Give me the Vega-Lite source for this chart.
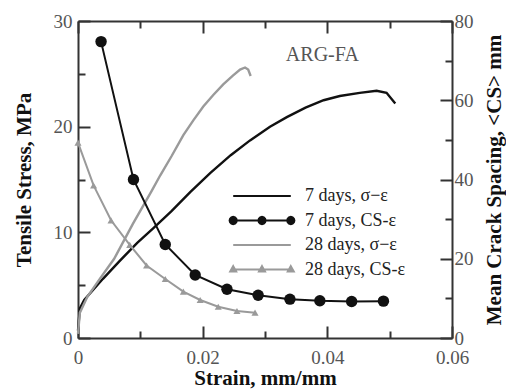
{
  "$schema": "https://vega.github.io/schema/vega-lite/v6.json",
  "width": 374,
  "height": 317,
  "autosize": {"type": "none"},
  "padding": {"left": 78, "top": 21, "right": 54, "bottom": 51},
  "background": "white",
  "config": {
    "view": {"stroke": null},
    "font": "Liberation Serif",
    "axis": {
      "labelFont": "Liberation Serif",
      "titleFont": "Liberation Serif",
      "grid": false,
      "domainColor": "#333333",
      "domainWidth": 2,
      "tickColor": "#333333",
      "tickWidth": 2,
      "labelColor": "#555555",
      "labelFontSize": 19,
      "titleFontSize": 21,
      "titleFontWeight": "bold",
      "titleColor": "#111111",
      "labelFlush": false,
      "labelOverlap": false,
      "labelBound": false
    }
  },
  "datasets": {
    "stress": [
      {"series": "7 days, σ−ε", "strain": 0, "stress": 0.7},
      {"series": "7 days, σ−ε", "strain": 0.0003, "stress": 2.8},
      {"series": "7 days, σ−ε", "strain": 0.001, "stress": 3.6},
      {"series": "7 days, σ−ε", "strain": 0.004, "stress": 5.6},
      {"series": "7 days, σ−ε", "strain": 0.0067, "stress": 7.3},
      {"series": "7 days, σ−ε", "strain": 0.0095, "stress": 9.0},
      {"series": "7 days, σ−ε", "strain": 0.0121, "stress": 10.4},
      {"series": "7 days, σ−ε", "strain": 0.015, "stress": 12.0},
      {"series": "7 days, σ−ε", "strain": 0.018, "stress": 13.8},
      {"series": "7 days, σ−ε", "strain": 0.0212, "stress": 15.6},
      {"series": "7 days, σ−ε", "strain": 0.0245, "stress": 17.3},
      {"series": "7 days, σ−ε", "strain": 0.0276, "stress": 18.7},
      {"series": "7 days, σ−ε", "strain": 0.0308, "stress": 20.0},
      {"series": "7 days, σ−ε", "strain": 0.0335, "stress": 20.9},
      {"series": "7 days, σ−ε", "strain": 0.0365, "stress": 21.8},
      {"series": "7 days, σ−ε", "strain": 0.0394, "stress": 22.5},
      {"series": "7 days, σ−ε", "strain": 0.042, "stress": 22.9},
      {"series": "7 days, σ−ε", "strain": 0.0452, "stress": 23.2},
      {"series": "7 days, σ−ε", "strain": 0.0479, "stress": 23.4},
      {"series": "7 days, σ−ε", "strain": 0.0495, "stress": 23.2},
      {"series": "7 days, σ−ε", "strain": 0.0509, "stress": 22.2},
      {"series": "28 days, σ−ε", "strain": 0, "stress": 0.4},
      {"series": "28 days, σ−ε", "strain": 0.0003, "stress": 2.4},
      {"series": "28 days, σ−ε", "strain": 0.0015, "stress": 3.9},
      {"series": "28 days, σ−ε", "strain": 0.0035, "stress": 5.6},
      {"series": "28 days, σ−ε", "strain": 0.0058, "stress": 7.5},
      {"series": "28 days, σ−ε", "strain": 0.0088, "stress": 10.8},
      {"series": "28 days, σ−ε", "strain": 0.0118, "stress": 13.9},
      {"series": "28 days, σ−ε", "strain": 0.0132, "stress": 15.4},
      {"series": "28 days, σ−ε", "strain": 0.015, "stress": 17.2},
      {"series": "28 days, σ−ε", "strain": 0.0169, "stress": 19.2},
      {"series": "28 days, σ−ε", "strain": 0.0185, "stress": 20.6},
      {"series": "28 days, σ−ε", "strain": 0.0201, "stress": 21.9},
      {"series": "28 days, σ−ε", "strain": 0.0217, "stress": 23.0},
      {"series": "28 days, σ−ε", "strain": 0.0233, "stress": 24.0},
      {"series": "28 days, σ−ε", "strain": 0.0248, "stress": 24.8},
      {"series": "28 days, σ−ε", "strain": 0.026, "stress": 25.4},
      {"series": "28 days, σ−ε", "strain": 0.0268, "stress": 25.6},
      {"series": "28 days, σ−ε", "strain": 0.0273, "stress": 25.4},
      {"series": "28 days, σ−ε", "strain": 0.0277, "stress": 24.8}
    ],
    "cs": [
      {"series": "7 days, CS-ε", "strain": 0.0037, "cs": 74.8},
      {"series": "7 days, CS-ε", "strain": 0.0089, "cs": 40.0},
      {"series": "7 days, CS-ε", "strain": 0.014, "cs": 23.6},
      {"series": "7 days, CS-ε", "strain": 0.0188, "cs": 15.9},
      {"series": "7 days, CS-ε", "strain": 0.0239, "cs": 12.3},
      {"series": "7 days, CS-ε", "strain": 0.0289, "cs": 10.8},
      {"series": "7 days, CS-ε", "strain": 0.034, "cs": 9.8},
      {"series": "7 days, CS-ε", "strain": 0.0388, "cs": 9.4},
      {"series": "7 days, CS-ε", "strain": 0.0439, "cs": 9.2},
      {"series": "7 days, CS-ε", "strain": 0.049, "cs": 9.3},
      {"series": "28 days, CS-ε", "strain": 0, "cs": 49.3},
      {"series": "28 days, CS-ε", "strain": 0.0025, "cs": 38.5},
      {"series": "28 days, CS-ε", "strain": 0.0053, "cs": 29.7},
      {"series": "28 days, CS-ε", "strain": 0.0083, "cs": 23.5},
      {"series": "28 days, CS-ε", "strain": 0.011, "cs": 18.3},
      {"series": "28 days, CS-ε", "strain": 0.014, "cs": 14.9},
      {"series": "28 days, CS-ε", "strain": 0.0169, "cs": 11.7},
      {"series": "28 days, CS-ε", "strain": 0.0196, "cs": 9.6},
      {"series": "28 days, CS-ε", "strain": 0.0225, "cs": 7.9},
      {"series": "28 days, CS-ε", "strain": 0.0255, "cs": 6.8},
      {"series": "28 days, CS-ε", "strain": 0.0284, "cs": 6.4}
    ]
  },
  "layer": [
    {
      "data": {"name": "stress"},
      "mark": {"type": "line", "strokeWidth": 2.4},
      "encoding": {
        "x": {
          "field": "strain", "type": "quantitative",
          "scale": {"domain": [0, 0.06], "nice": false, "zero": false},
          "axis": {
            "orient": "bottom",
            "values": [0, 0.01, 0.02, 0.03, 0.04, 0.05, 0.06],
            "labelExpr": "round(datum.value*100)%2==0 ? (datum.value==0 ? '0' : format(datum.value, '.2f')) : ''",
            "tickSize": {"condition": {"test": "round(datum.value*100)%2==0", "value": -12}, "value": -7},
            "labelPadding": 22,
            "title": "Strain, mm/mm",
            "titleFontSize": 21,
            "titleBaseline": "middle",
            "titleY": 40
          }
        },
        "y": {
          "field": "stress", "type": "quantitative",
          "scale": {"domain": [0, 30], "nice": false},
          "axis": {
            "orient": "left",
            "values": [0, 5, 10, 15, 20, 25, 30],
            "labelExpr": "datum.value%10==0 ? datum.label : ''",
            "tickSize": {"condition": {"test": "datum.value%10==0", "value": -12}, "value": -7},
            "labelPadding": 18,
            "title": "Tensile Stress, MPa",
            "titlePadding": 19
          }
        },
        "color": {
          "field": "series", "type": "nominal",
          "scale": {
            "domain": ["7 days, σ−ε", "7 days, CS-ε", "28 days, σ−ε", "28 days, CS-ε"],
            "range": ["#111111", "#111111", "#9a9a9a", "#9a9a9a"]
          },
          "legend": {
            "orient": "none",
            "legendX": 171,
            "legendY": 162,
            "title": null,
            "padding": 0,
            "symbolSize": 576,
            "rowPadding": 2.5,
            "labelOffset": 30,
            "labelFont": "Liberation Serif",
            "labelFontSize": 18,
            "labelColor": "#222222",
            "symbolStrokeWidth": 2,
            "encode": {
              "symbols": {
                "update": {
                  "shape": {"signal": "datum.value=='7 days, σ−ε' || datum.value=='28 days, σ−ε' ? 'M-2.4,0L2.4,0' : (datum.value=='28 days, CS-ε' ? 'M-2.4,0L2.4,0M-2.4,-0.28L-2.15,0.17L-2.65,0.17ZM0,-0.28L0.25,0.17L-0.25,0.17ZM2.4,-0.28L2.65,0.17L2.15,0.17Z' : 'M-2.4,0L2.4,0M-2.1,0L-2.14,0.15L-2.25,0.26L-2.4,0.3L-2.55,0.26L-2.66,0.15L-2.7,0L-2.66,-0.15L-2.55,-0.26L-2.4,-0.3L-2.25,-0.26L-2.14,-0.15ZM0.3,0L0.26,0.15L0.15,0.26L0,0.3L-0.15,0.26L-0.26,0.15L-0.3,0L-0.26,-0.15L-0.15,-0.26L0,-0.3L0.15,-0.26L0.26,-0.15ZM2.7,0L2.66,0.15L2.55,0.26L2.4,0.3L2.25,0.26L2.14,0.15L2.1,0L2.14,-0.15L2.25,-0.26L2.4,-0.3L2.55,-0.26L2.66,-0.15Z')"},
                  "fill": {"signal": "datum.value=='7 days, CS-ε' ? '#111111' : (datum.value=='28 days, CS-ε' ? '#9a9a9a' : 'transparent')"},
                  "stroke": {"signal": "datum.value=='28 days, σ−ε' || datum.value=='28 days, CS-ε' ? '#9a9a9a' : '#111111'"},
                  "strokeWidth": {"value": 2},
                  "opacity": {"value": 1}
                }
              }
            }
          }
        }
      }
    },
    {
      "data": {"values": [{}]},
      "mark": {"type": "text", "font": "Liberation Serif", "fontSize": 20, "color": "#555555", "align": "center", "baseline": "middle"},
      "encoding": {
        "x": {"datum": 0.0392, "type": "quantitative", "axis": null},
        "y": {"datum": 26.8, "type": "quantitative", "scale": {"domain": [0, 30], "nice": false}, "axis": null},
        "text": {"value": "ARG-FA"}
      }
    },
    {
      "data": {"name": "cs"},
      "mark": {"type": "line", "strokeWidth": 2},
      "encoding": {
        "x": {
          "field": "strain", "type": "quantitative",
          "axis": {
            "orient": "top",
            "values": [0, 0.01, 0.02, 0.03, 0.04, 0.05, 0.06],
            "labels": false,
            "tickSize": {"condition": {"test": "round(datum.value*100)%2==0", "value": -12}, "value": -7},
            "title": null
          }
        },
        "y": {
          "field": "cs", "type": "quantitative",
          "scale": {"domain": [0, 80], "nice": false},
          "axis": {
            "orient": "right",
            "values": [0, 10, 20, 30, 40, 50, 60, 70, 80],
            "labelExpr": "datum.value%20==0 ? datum.label : ''",
            "tickSize": {"condition": {"test": "datum.value%20==0", "value": -12}, "value": -7},
            "labelPadding": 14,
            "title": "Mean Crack Spacing, <CS> mm",
            "titleFontSize": 21,
            "titleAngle": -90,
            "titleBaseline": "top",
            "titlePadding": 10
          }
        },
        "color": {"field": "series", "type": "nominal"}
      }
    },
    {
      "data": {"name": "cs"},
      "mark": {"type": "point", "filled": true, "opacity": 1},
      "encoding": {
        "x": {"field": "strain", "type": "quantitative", "axis": null},
        "y": {"field": "cs", "type": "quantitative", "scale": {"domain": [0, 80], "nice": false}, "axis": null},
        "color": {"field": "series", "type": "nominal"},
        "shape": {"field": "series", "type": "nominal", "scale": {"domain": ["7 days, CS-ε", "28 days, CS-ε"], "range": ["circle", "triangle-up"]}, "legend": null},
        "size": {"field": "series", "type": "nominal", "scale": {"domain": ["7 days, CS-ε", "28 days, CS-ε"], "range": [130, 50]}, "legend": null}
      }
    }
  ],
  "resolve": {"scale": {"y": "independent"}, "axis": {"x": "independent", "y": "independent"}}
}
